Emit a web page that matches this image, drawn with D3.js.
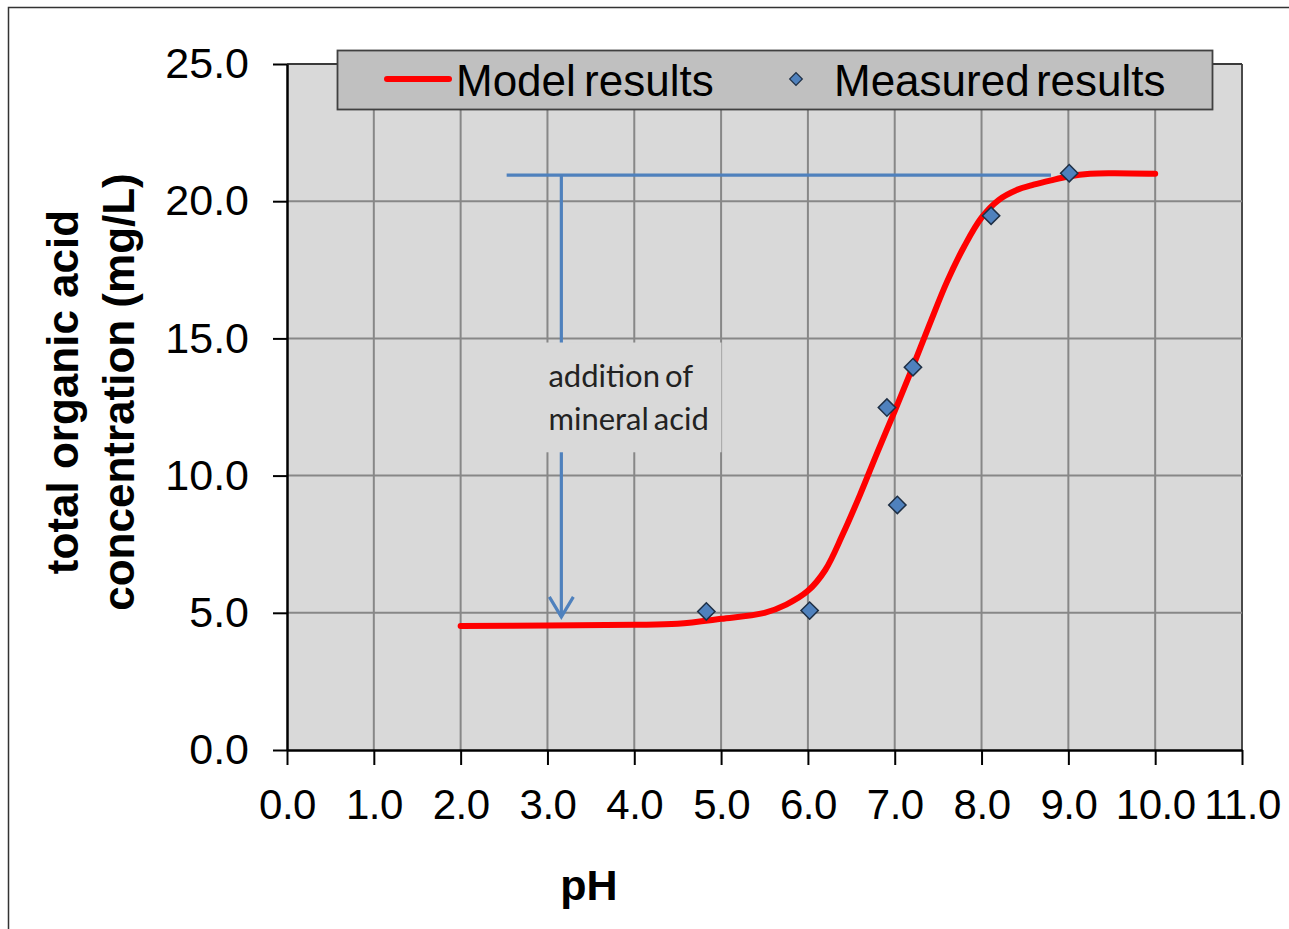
<!DOCTYPE html>
<html>
<head>
<meta charset="utf-8">
<script src="https://cdn.jsdelivr.net/npm/d3@7/dist/d3.min.js"></script>
<style>
  html, body { margin: 0; padding: 0; background: #ffffff; }
  svg { display: block; }
</style>
</head>
<body>
<svg id="chart" width="1289" height="929"></svg>
<script>
// ---------------- DATA ----------------
const modelPH   = [2.0, 3.0, 4.0, 4.5, 5.0, 5.5, 5.75, 6.0, 6.2, 6.4, 6.6, 6.8, 7.0, 7.2, 7.4, 7.6, 7.8, 8.0, 8.2, 8.4, 8.6, 8.8, 9.0, 9.25, 9.5, 10.0];
const modelConc = [4.52, 4.54, 4.56, 4.6, 4.78, 5.0, 5.3, 5.8, 6.56, 7.85, 9.3, 10.85, 12.35, 13.9, 15.5, 17.05, 18.35, 19.4, 20.05, 20.4, 20.6, 20.76, 20.9, 21.0, 21.02, 21.0];

const measuredPH   = [4.83, 6.02, 6.91, 7.03, 7.21, 8.11, 9.01];
const measuredConc = [5.05, 5.08, 12.48, 8.93, 13.95, 19.47, 21.02];

const xTicks = [0, 1, 2, 3, 4, 5, 6, 7, 8, 9, 10, 11];
const yTicks = [0, 5, 10, 15, 20, 25];

const seriesNames = ["Model results", "Measured results"];
const xTitle = "pH";
const yTitleLines = ["total organic acid", "concentration (mg/L)"];
const annotationLines = ["addition of", "mineral acid"];

// annotation geometry in data units (pH, mg/L)
const annoHorizontal = [[2.53, 20.95], [8.8, 20.95]];
const annoVerticalTop = [[3.16, 20.95], [3.16, 14.85]];
const annoVerticalBottom = [[3.16, 10.85], [3.16, 4.85]];

// ---------------- LAYOUT ----------------
const svg = d3.select("#chart");
const x = d3.scaleLinear().domain([0, 11]).range([287, 1242]);
const y = d3.scaleLinear().domain([0, 25]).range([750, 64]);

const FONT = "'Liberation Sans', Arial, Helvetica, sans-serif";
const gridColor = "#878787";
const blue = "#4f81bd";

// outer border
svg.append("rect")
  .attr("x", 8.5).attr("y", 7.5)
  .attr("width", 1300).attr("height", 940)
  .attr("fill", "#ffffff").attr("stroke", "#333333").attr("stroke-width", 1.5);

// plot background
svg.append("rect")
  .attr("x", x(0)).attr("y", y(25))
  .attr("width", x(11) - x(0)).attr("height", y(0) - y(25))
  .attr("fill", "#d9d9d9");

// grid
const grid = svg.append("g");
grid.selectAll("line.vx").data(xTicks.filter(d => d > 0)).enter().append("line")
  .attr("x1", d => x(d)).attr("x2", d => x(d))
  .attr("y1", y(0)).attr("y2", y(25))
  .attr("stroke", d => d === 11 ? "#4a4a4a" : gridColor)
  .attr("stroke-width", 2);
grid.selectAll("line.hy").data(yTicks.filter(d => d > 0)).enter().append("line")
  .attr("x1", x(0)).attr("x2", x(11))
  .attr("y1", d => y(d)).attr("y2", d => y(d))
  .attr("stroke", d => d === 25 ? "#3a3a3a" : gridColor)
  .attr("stroke-width", 2);

// annotation text background (hides grid under the label)
svg.append("rect")
  .attr("x", x(3.0) - 8).attr("y", y(14.85))
  .attr("width", 182).attr("height", y(10.85) - y(14.85))
  .attr("fill", "#d9d9d9");

// annotation lines
const lineGen = d3.line().x(d => x(d[0])).y(d => y(d[1]));
[annoHorizontal, annoVerticalTop, annoVerticalBottom].forEach(seg => {
  svg.append("path")
    .attr("d", lineGen(seg))
    .attr("fill", "none")
    .attr("stroke", blue)
    .attr("stroke-width", 3.2);
});
// arrow head
const tip = annoVerticalBottom[1];
const tx = x(tip[0]), ty = y(tip[1]);
svg.append("path")
  .attr("d", `M${tx - 12},${ty - 20} L${tx},${ty} L${tx + 12},${ty - 20}`)
  .attr("fill", "none")
  .attr("stroke", blue)
  .attr("stroke-width", 3.2)
  .attr("stroke-linejoin", "miter");

// annotation text
const anno = svg.append("text")
  .attr("font-family", "Lato, 'Open Sans', sans-serif")
  .attr("font-size", 31)
  .attr("fill", "#222222");
annotationLines.forEach((t, i) => {
  anno.append("tspan")
    .attr("x", x(3.0) + 1)
    .attr("y", 387 + i * 43)
    .attr("word-spacing", -3)
    .text(t);
});

// model curve
const modelData = modelPH.map((p, i) => [p, modelConc[i]]);
svg.append("path")
  .datum(modelData)
  .attr("d", d3.line().x(d => x(d[0])).y(d => y(d[1])).curve(d3.curveCatmullRom.alpha(0.5)))
  .attr("fill", "none")
  .attr("stroke", "#ff0000")
  .attr("stroke-width", 6)
  .attr("stroke-linecap", "round")
  .attr("stroke-linejoin", "round");

// measured points
const diamond = d3.symbol().type(d3.symbolSquare).size(150);
const measuredData = measuredPH.map((p, i) => [p, measuredConc[i]]);
svg.selectAll("path.pt").data(measuredData).enter().append("path")
  .attr("class", "pt")
  .attr("d", diamond)
  .attr("transform", d => `translate(${x(d[0])},${y(d[1])}) rotate(45)`)
  .attr("fill", blue)
  .attr("stroke", "#1e2f45")
  .attr("stroke-width", 1.5);

// axes
const fmt = d3.format(".1f");
const yAxis = svg.append("g")
  .attr("transform", `translate(${x(0)},0)`)
  .call(d3.axisLeft(y).tickValues(yTicks).tickFormat(fmt).tickSize(14).tickSizeOuter(0).tickPadding(24));
const xAxis = svg.append("g")
  .attr("transform", `translate(0,${y(0)})`)
  .call(d3.axisBottom(x).tickValues(xTicks).tickFormat(fmt).tickSize(15).tickSizeOuter(0).tickPadding(24));

[yAxis, xAxis].forEach(g => {
  g.select(".domain").attr("stroke", "#000").attr("stroke-width", 2.5);
  g.selectAll(".tick line").attr("stroke", "#000").attr("stroke-width", 2);
  g.selectAll(".tick text").attr("fill", "#000").attr("font-family", FONT);
});
yAxis.selectAll(".tick text").attr("font-size", 43);
xAxis.selectAll(".tick text").attr("font-size", 42).attr("letter-spacing", -0.5);

// axis titles
svg.append("text")
  .attr("x", 589).attr("y", 900)
  .attr("text-anchor", "middle")
  .attr("font-family", FONT).attr("font-weight", "bold").attr("font-size", 43)
  .attr("fill", "#000")
  .text(xTitle);

const yt = svg.append("g");
yTitleLines.forEach((t, i) => {
  const bx = [78, 134][i];
  yt.append("text")
    .attr("transform", `translate(${bx},392) rotate(-90)`)
    .attr("text-anchor", "middle")
    .attr("font-family", FONT).attr("font-weight", "bold").attr("font-size", 44)
    .attr("fill", "#000")
    .text(t);
});

// legend
const lg = svg.append("g");
lg.append("rect")
  .attr("x", 337.5).attr("y", 50.5)
  .attr("width", 875).attr("height", 59)
  .attr("fill", "#c0c0c0")
  .attr("stroke", "#404040").attr("stroke-width", 1.8);
lg.append("line")
  .attr("x1", 387).attr("x2", 449).attr("y1", 79).attr("y2", 79)
  .attr("stroke", "#ff0000").attr("stroke-width", 6).attr("stroke-linecap", "round");
lg.append("text")
  .attr("x", 456).attr("y", 96)
  .attr("font-family", FONT).attr("font-size", 44).attr("word-spacing", -4)
  .attr("fill", "#000")
  .text(seriesNames[0]);
lg.append("path")
  .attr("d", d3.symbol().type(d3.symbolSquare).size(80))
  .attr("transform", "translate(796,79) rotate(45)")
  .attr("fill", blue).attr("stroke", "#1e2f45").attr("stroke-width", 1.2);
lg.append("text")
  .attr("x", 834).attr("y", 96)
  .attr("font-family", FONT).attr("font-size", 44).attr("word-spacing", -6)
  .attr("fill", "#000")
  .text(seriesNames[1]);
</script>
</body>
</html>
